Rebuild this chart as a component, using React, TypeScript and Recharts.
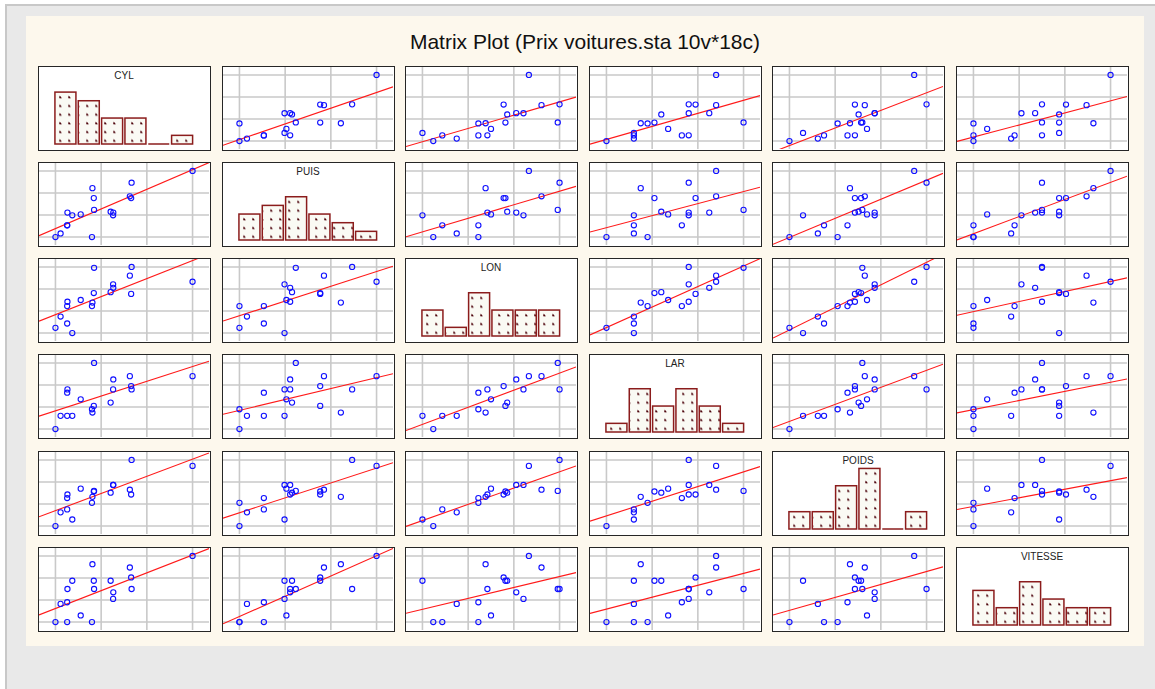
import React from "react";
import {
  Bar,
  BarChart,
  ReferenceLine,
  Scatter,
  ScatterChart,
  XAxis,
  YAxis,
} from "recharts";

// Prix voitures.sta - 18 modèles
const MODELES = [
  "Alfasud TI", "Audi 100", "Simca 1300", "Citroen GS Club", "Fiat 132", "Lancia Beta",
  "Peugeot 504", "Renault 16 TL", "Renault 30", "Toyota Corolla", "Alfetta 1.66",
  "Princess 1800", "Datsun 200L", "Taunus 2000", "Rancho", "Mazda 9295", "Opel Rekord", "Lada 1300",
];
const CYL = [1350, 1588, 1294, 1222, 1585, 1297, 1796, 1565, 2664, 1166, 1570, 1798, 1998, 1993, 1442, 1769, 1979, 1294];
const PUIS = [79, 85, 68, 59, 98, 82, 79, 55, 128, 55, 109, 82, 115, 98, 80, 83, 100, 68];
const LON = [393, 468, 424, 412, 439, 429, 449, 424, 452, 399, 428, 445, 469, 438, 431, 440, 459, 404];
const LAR = [161, 177, 168, 161, 164, 169, 169, 163, 173, 157, 162, 172, 169, 170, 166, 165, 173, 161];
const POIDS = [870, 1110, 1050, 930, 1105, 1080, 1160, 1010, 1320, 815, 1060, 1160, 1370, 1080, 1129, 1095, 1120, 955];
const VITESSE = [165, 160, 152, 151, 165, 160, 154, 140, 180, 140, 175, 158, 160, 167, 144, 165, 173, 140];

// histogram counts (6 classes each)
const HIST_CYL = [6, 5, 3, 3, 0, 1];
const HIST_PUIS = [3, 4, 5, 3, 2, 1];
const HIST_LON = [3, 1, 5, 3, 3, 3];
const HIST_LAR = [1, 5, 3, 5, 3, 1];
const HIST_POIDS = [2, 2, 5, 7, 0, 2];
const HIST_VITESSE = [4, 2, 5, 3, 2, 2];

const VARS = ["CYL", "PUIS", "LON", "LAR", "POIDS", "VITESSE"];
const SERIES = [CYL, PUIS, LON, LAR, POIDS, VITESSE];
const HISTS = [HIST_CYL, HIST_PUIS, HIST_LON, HIST_LAR, HIST_POIDS, HIST_VITESSE];

const FONT = "'Liberation Sans', Arial, Helvetica, sans-serif";
const PANEL_W = 173;
const PANEL_H = 85;
const BORDER = 1.5;
const INNER_W = PANEL_W - 2 * BORDER;
const INNER_H = PANEL_H - 2 * BORDER;
const GRID = "#c9c9c9";

function range(v: number[]) {
  const lo = Math.min(...v);
  const hi = Math.max(...v);
  return { lo, hi, r: hi - lo };
}

function regression(xs: number[], ys: number[]) {
  const n = xs.length;
  const mx = xs.reduce((a, b) => a + b, 0) / n;
  const my = ys.reduce((a, b) => a + b, 0) / n;
  let sxy = 0;
  let sxx = 0;
  for (let i = 0; i < n; i++) {
    sxy += (xs[i] - mx) * (ys[i] - my);
    sxx += (xs[i] - mx) ** 2;
  }
  const b = sxy / sxx;
  return { a: my - b * mx, b };
}

const Dot = (props: any) => (
  <circle cx={props.cx} cy={props.cy} r={2.6} fill="none" stroke="#1010ff" strokeWidth={1.1} />
);

const HistBar = (props: any) => {
  const { x, y, width, height } = props;
  if (!height || height <= 0.5) {
    return <line x1={x} x2={x + width} y1={y} y2={y} stroke="#8b1c1c" strokeWidth={1.5} />;
  }
  return (
    <rect x={x} y={y} width={width} height={height} fill="url(#histDots)" stroke="#8b1c1c" strokeWidth={1.5} />
  );
};

function ScatterPanel({ xi, yi }: { xi: number; yi: number }) {
  const xs = SERIES[xi];
  const ys = SERIES[yi];
  const rx = range(xs);
  const ry = range(ys);
  const pad = 0.12;
  const xDom = [rx.lo - rx.r * pad, rx.hi + rx.r * pad];
  const yDom = [ry.lo - ry.r * pad, ry.hi + ry.r * pad];
  // grid at min, 1/3, 2/3 and max of the data range
  const xTicks = [0, 1, 2, 3].map((k) => rx.lo + (rx.r * k) / 3);
  const yTicks = [0, 1, 2, 3].map((k) => ry.lo + (ry.r * k) / 3);
  const data = xs.map((x, i) => ({ nom: MODELES[i], x, y: ys[i] }));
  const { a, b } = regression(xs, ys);

  return (
    <ScatterChart width={INNER_W} height={INNER_H} margin={{ top: 0, right: 0, bottom: 0, left: 0 }}>
      <XAxis type="number" dataKey="x" domain={xDom} allowDataOverflow hide />
      <YAxis type="number" dataKey="y" domain={yDom} allowDataOverflow hide />
      {xTicks.map((t) => (
        <ReferenceLine key={`gx${t}`} x={t} stroke={GRID} strokeWidth={1.6} />
      ))}
      {yTicks.map((t) => (
        <ReferenceLine key={`gy${t}`} y={t} stroke={GRID} strokeWidth={1.6} />
      ))}
      <ReferenceLine
        segment={[
          { x: xDom[0], y: a + b * xDom[0] },
          { x: xDom[1], y: a + b * xDom[1] },
        ]}
        stroke="#ff1a1a"
        strokeWidth={1.1}
        ifOverflow="hidden"
      />
      <Scatter data={data} shape={Dot} isAnimationActive={false} />
    </ScatterChart>
  );
}

function HistPanel({ vi }: { vi: number }) {
  const data = HISTS[vi].map((n, k) => ({ classe: k + 1, n }));
  return (
    <div style={{ position: "relative" }}>
      <BarChart
        width={INNER_W}
        height={INNER_H}
        data={data}
        margin={{ top: 0, right: 15, bottom: 5, left: 15 }}
        barCategoryGap="4%"
      >
        <XAxis dataKey="classe" hide />
        <YAxis domain={[0, 8.9]} hide />
        <Bar dataKey="n" shape={HistBar} isAnimationActive={false} />
      </BarChart>
      <div
        style={{
          position: "absolute",
          top: 4,
          left: 0,
          width: INNER_W,
          textAlign: "center",
          fontFamily: FONT,
          fontSize: 10,
          lineHeight: "10px",
          color: "#222",
        }}
      >
        {VARS[vi]}
      </div>
    </div>
  );
}

export default function App() {
  const panels = [];
  for (let i = 0; i < 6; i++) {
    for (let j = 0; j < 6; j++) {
      panels.push(
        <div
          key={`${i}-${j}`}
          style={{
            position: "absolute",
            left: Math.round(38 + 183.5 * j),
            top: Math.round(65.7 + 96.2 * i),
            width: PANEL_W,
            height: PANEL_H,
            boxSizing: "border-box",
            border: `${BORDER}px solid #262626`,
            background: "#ffffff",
            overflow: "hidden",
          }}
        >
          {i === j ? <HistPanel vi={i} /> : <ScatterPanel xi={j} yi={i} />}
        </div>
      );
    }
  }

  return (
    <div style={{ position: "fixed", left: 0, top: 0, width: 1155, height: 689, background: "#ffffff", overflow: "hidden" }}>
      <svg width={0} height={0} style={{ position: "absolute" }}>
        <defs>
          <pattern id="histDots" patternUnits="userSpaceOnUse" width={9} height={8.7}>
            <rect x={0} y={0} width={9} height={8.7} fill="#fafaf4" />
            <path d="M2.5,2.5 L5,5 L2.5,5 Z" fill="#4a0008" />
            <rect x={2.5} y={3.6} width={1.4} height={1.4} fill="#4a0008" />
          </pattern>
        </defs>
      </svg>
      <div
        style={{
          position: "absolute",
          left: 5,
          top: 4,
          right: 0,
          bottom: 0,
          background: "#e9e9e9",
          borderTop: "2px solid #c8c8c8",
          borderLeft: "2px solid #c8c8c8",
        }}
      />
      <div style={{ position: "absolute", left: 26, top: 16, width: 1118, height: 630, background: "#fdf8ed" }} />
      <div
        style={{
          position: "absolute",
          left: 26,
          top: 30,
          width: 1118,
          textAlign: "center",
          fontFamily: FONT,
          fontSize: 21,
          lineHeight: "24px",
          color: "#111",
        }}
      >
        Matrix Plot (Prix voitures.sta 10v*18c)
      </div>
      {panels}
    </div>
  );
}
